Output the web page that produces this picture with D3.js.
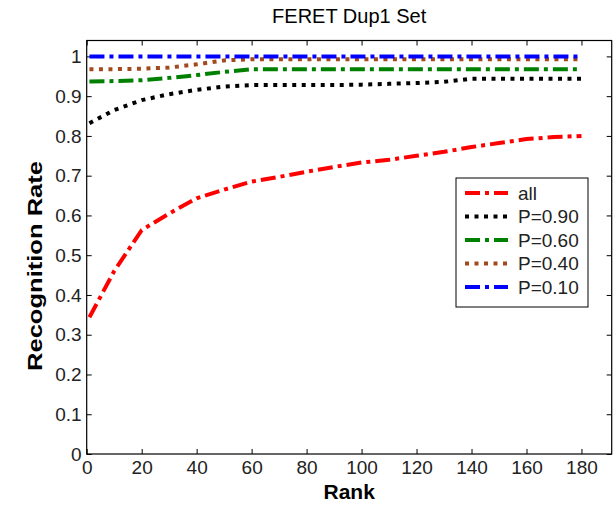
<!DOCTYPE html>
<html>
<head>
<meta charset="utf-8">
<script src="https://cdn.jsdelivr.net/npm/d3@7"></script>
<style>
  body { margin: 0; background: #fff; }
  text { font-family: "Liberation Sans", Arial, sans-serif; }
</style>
</head>
<body>
<div id="chart"></div>
<script>
const ranks = [1, 10, 20, 30, 40, 50, 60, 70, 80, 90, 100, 110, 120, 130, 140, 150, 160, 170, 180];

const rateAll = [0.344, 0.46, 0.563, 0.605, 0.643, 0.665, 0.685, 0.697, 0.71, 0.722, 0.733, 0.74, 0.75, 0.76, 0.772, 0.782, 0.792, 0.797, 0.80];
const rateP90 = [0.832, 0.865, 0.89, 0.905, 0.916, 0.924, 0.928, 0.928, 0.928, 0.928, 0.929, 0.931, 0.933, 0.936, 0.944, 0.944, 0.944, 0.944, 0.944];
const rateP60 = [0.937, 0.938, 0.94, 0.946, 0.953, 0.961, 0.968, 0.968, 0.968, 0.968, 0.968, 0.968, 0.968, 0.968, 0.968, 0.968, 0.968, 0.968, 0.968];
const rateP40 = [0.968, 0.968, 0.969, 0.972, 0.98, 0.99, 0.993, 0.993, 0.993, 0.993, 0.993, 0.993, 0.993, 0.993, 0.993, 0.993, 0.993, 0.993, 0.993];
const rateP10 = [1, 1, 1, 1, 1, 1, 1, 1, 1, 1, 1, 1, 1, 1, 1, 1, 1, 1, 1];

const seriesNames = ["all", "P=0.90", "P=0.60", "P=0.40", "P=0.10"];
const xTicks = [0, 20, 40, 60, 80, 100, 120, 140, 160, 180];
const yTicks = [0, 0.1, 0.2, 0.3, 0.4, 0.5, 0.6, 0.7, 0.8, 0.9, 1];

const series = [
    {name: seriesNames[0], values: rateAll, color: "#ff0000", dash: "15,5,4,5"},
    {name: seriesNames[1], values: rateP90, color: "#000000", dash: "4,5.5"},
    {name: seriesNames[2], values: rateP60, color: "#008000", dash: "15,5,4,5"},
    {name: seriesNames[3], values: rateP40, color: "#a34a1c", dash: "4,5.5"},
    {name: seriesNames[4], values: rateP10, color: "#0000ff", dash: "15,5,4,5"}
];

let margins = {top: 40.5, bottom: 52, left: 86.7, right: 4.3};
let width = 616 - margins.left - margins.right;
let height = 506 - margins.top - margins.bottom;

let svg = d3.select("#chart").append("svg")
    .attr("width", 616)
    .attr("height", 506)
    .append("g")
    .attr("transform", "translate(" + margins.left + "," + margins.top + ")");

let xScale = d3.scaleLinear().domain([0, 191]).range([0, width]);
let yScale = d3.scaleLinear().domain([0, 1.04]).range([height, 0]);

// axes, ticks pointing inward like matlab
svg.append("g")
    .attr("transform", "translate(0," + height + ")")
    .call(d3.axisBottom(xScale).tickValues(xTicks).tickSize(-5).tickPadding(7).tickFormat(d3.format("d")));
svg.append("g")
    .call(d3.axisLeft(yScale).tickValues(yTicks).tickSize(-5).tickPadding(5).tickFormat(d => d === 0 || d === 1 ? d : d3.format(".1f")(d)));
svg.append("g")
    .call(d3.axisTop(xScale).tickValues(xTicks).tickSize(-5).tickFormat(""));
svg.append("g")
    .attr("transform", "translate(" + width + ",0)")
    .call(d3.axisRight(yScale).tickValues(yTicks).tickSize(-5).tickFormat(""));

svg.selectAll(".domain").remove();
svg.selectAll(".tick line").attr("stroke", "#000").attr("stroke-width", 1);
svg.selectAll(".tick text")
    .style("font-size", "19px")
    .attr("fill", "#222");

svg.append("rect")
    .attr("width", width)
    .attr("height", height)
    .attr("fill", "none")
    .attr("stroke", "#000")
    .attr("stroke-width", 1.2);

let line = d3.line()
    .x((d, i) => xScale(ranks[i]))
    .y(d => yScale(d));

series.forEach(s => {
    svg.append("path")
        .datum(s.values)
        .attr("fill", "none")
        .attr("stroke", s.color)
        .attr("stroke-width", 4)
        .attr("stroke-dasharray", s.dash)
        .attr("d", line);
});

// legend
let legend = svg.append("g")
    .attr("transform", "translate(" + (456 - margins.left) + "," + (178 - margins.top) + ")");
legend.append("rect")
    .attr("width", 132)
    .attr("height", 129)
    .attr("fill", "#fff")
    .attr("stroke", "#000")
    .attr("stroke-width", 1);
series.forEach((s, i) => {
    let y = 15 + i * 23.5;
    legend.append("line")
        .attr("x1", 9).attr("x2", 52)
        .attr("y1", y).attr("y2", y)
        .attr("stroke", s.color)
        .attr("stroke-width", 4)
        .attr("stroke-dasharray", s.dash);
    legend.append("text")
        .attr("x", 62)
        .attr("y", y)
        .attr("dy", "0.35em")
        .style("font-size", "19px")
        .attr("fill", "#222")
        .text(s.name);
});

svg.append("text") // title
    .text("FERET Dup1 Set")
    .attr("text-anchor", "middle")
    .attr("x", width / 2)
    .attr("y", -margins.top + 23)
    .style("font-size", "20px");

svg.append("text") // x label
    .text("Rank")
    .attr("text-anchor", "middle")
    .attr("x", width / 2)
    .attr("y", height + 45)
    .style("font-size", "21px")
    .style("font-weight", "bold");

svg.append("text") // y label
    .text("Recognition Rate")
    .attr("text-anchor", "middle")
    .attr("transform", "translate(" + (-margins.left + 42) + "," + (266 - margins.top) + ") rotate(-90)")
    .attr("textLength", 210)
    .attr("lengthAdjust", "spacingAndGlyphs")
    .style("font-size", "20px")
    .style("font-weight", "bold");
</script>
</body>
</html>
